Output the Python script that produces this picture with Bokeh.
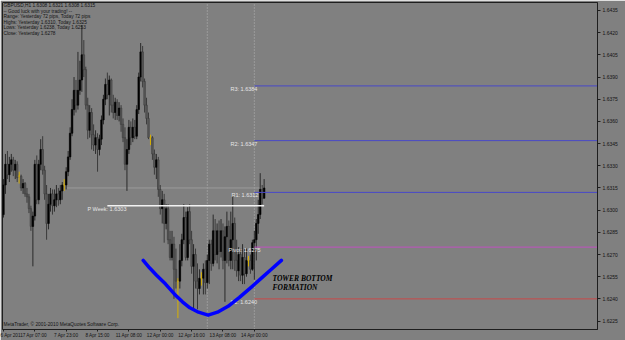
from bokeh.plotting import figure
from bokeh.models import Range1d, FixedTicker, NumeralTickFormatter, ColumnDataSource, Label
from bokeh.embed import file_html
from bokeh.resources import INLINE
from bokeh.core.properties import value

# ---------------- data (GBPUSD H1, bars from 6 Apr 2011 15:00) ----------------
opens = [1.6297, 1.6317, 1.6331, 1.6324, 1.6331, 1.6334, 1.6327, 1.6331, 1.6323, 1.6323,
         1.6315, 1.6318, 1.6311, 1.6309, 1.6301, 1.6289, 1.6296, 1.6331, 1.6307, 1.6331,
         1.6341, 1.6327, 1.6311, 1.6291, 1.6304, 1.6311, 1.6303, 1.6307, 1.6311, 1.6307,
         1.6313, 1.6317, 1.6317, 1.6326, 1.6336, 1.6352, 1.6368, 1.6381, 1.6371, 1.6381,
         1.6388, 1.6405, 1.6395, 1.6371, 1.6354, 1.6366, 1.6351, 1.6344, 1.6349, 1.6341,
         1.6348, 1.6361, 1.6375, 1.6385, 1.6378, 1.6388, 1.6371, 1.6366, 1.6373, 1.6364,
         1.6369, 1.6358, 1.6349, 1.6331, 1.6341, 1.6356, 1.6349, 1.6356, 1.6350, 1.6368,
         1.6390, 1.6407, 1.6387, 1.6371, 1.6362, 1.6349, 1.6349, 1.6338, 1.6329, 1.6334,
         1.6314, 1.6301, 1.6307, 1.6291, 1.6301, 1.6280, 1.6268, 1.6277, 1.6260, 1.6252,
         1.6252, 1.6266, 1.6280, 1.6295, 1.6268, 1.6299, 1.6280, 1.6262, 1.6270, 1.6252,
         1.6247, 1.6254, 1.6254, 1.6260, 1.6251, 1.6266, 1.6277, 1.6264, 1.6286, 1.6270,
         1.6286, 1.6272, 1.6286, 1.6266, 1.6282, 1.6289, 1.6266, 1.6280, 1.6291, 1.6266,
         1.6259, 1.6270, 1.6256, 1.6268, 1.6257, 1.6266, 1.6266, 1.6260, 1.6278, 1.6280,
         1.6291, 1.6297, 1.6314, 1.6308]
highs = [1.6321, 1.6338, 1.6340, 1.6336, 1.6338, 1.6336, 1.6334, 1.6333, 1.6326, 1.6324,
         1.6321, 1.6319, 1.6315, 1.6311, 1.6303, 1.6299, 1.6334, 1.6337, 1.6334, 1.6348,
         1.6350, 1.6330, 1.6317, 1.6311, 1.6315, 1.6314, 1.6314, 1.6317, 1.6315, 1.6317,
         1.6319, 1.6321, 1.6329, 1.6340, 1.6356, 1.6375, 1.6390, 1.6388, 1.6407, 1.6401,
         1.6425, 1.6415, 1.6397, 1.6376, 1.6371, 1.6369, 1.6358, 1.6354, 1.6352, 1.6351,
         1.6364, 1.6378, 1.6389, 1.6393, 1.6391, 1.6389, 1.6378, 1.6376, 1.6375, 1.6373,
         1.6371, 1.6362, 1.6356, 1.6348, 1.6361, 1.6360, 1.6362, 1.6361, 1.6371, 1.6393,
         1.6413, 1.6411, 1.6389, 1.6376, 1.6366, 1.6351, 1.6350, 1.6341, 1.6338, 1.6336,
         1.6317, 1.6313, 1.6311, 1.6304, 1.6304, 1.6286, 1.6286, 1.6282, 1.6274, 1.6254,
         1.6277, 1.6284, 1.6304, 1.6299, 1.6302, 1.6304, 1.6286, 1.6277, 1.6274, 1.6264,
         1.6260, 1.6258, 1.6264, 1.6266, 1.6270, 1.6280, 1.6280, 1.6297, 1.6294, 1.6291,
         1.6293, 1.6294, 1.6291, 1.6289, 1.6299, 1.6293, 1.6299, 1.6310, 1.6295, 1.6280,
         1.6275, 1.6274, 1.6277, 1.6274, 1.6274, 1.6269, 1.6270, 1.6280, 1.6286, 1.6294,
         1.6307, 1.6325, 1.6317, 1.6321]
lows = [1.6295, 1.6311, 1.6321, 1.6319, 1.6326, 1.6323, 1.6321, 1.6319, 1.6318, 1.6313,
        1.6311, 1.6309, 1.6305, 1.6298, 1.6286, 1.6262, 1.6293, 1.6304, 1.6304, 1.6327,
        1.6324, 1.6307, 1.6280, 1.6287, 1.6299, 1.6297, 1.6299, 1.6302, 1.6303, 1.6304,
        1.6307, 1.6313, 1.6314, 1.6323, 1.6334, 1.6350, 1.6364, 1.6366, 1.6368, 1.6378,
        1.6380, 1.6390, 1.6368, 1.6348, 1.6349, 1.6341, 1.6340, 1.6338, 1.6326, 1.6337,
        1.6344, 1.6358, 1.6371, 1.6375, 1.6364, 1.6366, 1.6362, 1.6361, 1.6361, 1.6360,
        1.6353, 1.6346, 1.6327, 1.6313, 1.6338, 1.6344, 1.6346, 1.6348, 1.6348, 1.6365,
        1.6387, 1.6383, 1.6366, 1.6358, 1.6348, 1.6344, 1.6334, 1.6324, 1.6321, 1.6309,
        1.6297, 1.6291, 1.6278, 1.6287, 1.6277, 1.6266, 1.6266, 1.6240, 1.6247, 1.6227,
        1.6247, 1.6262, 1.6277, 1.6266, 1.6266, 1.6277, 1.6257, 1.6233, 1.6247, 1.6233,
        1.6243, 1.6249, 1.6243, 1.6243, 1.6247, 1.6250, 1.6259, 1.6262, 1.6266, 1.6264,
        1.6260, 1.6268, 1.6260, 1.6238, 1.6264, 1.6262, 1.6260, 1.6260, 1.6259, 1.6255,
        1.6252, 1.6252, 1.6250, 1.6250, 1.6255, 1.6262, 1.6257, 1.6259, 1.6253, 1.6266,
        1.6284, 1.6294, 1.6304, 1.6308]
closes = [1.6317, 1.6331, 1.6324, 1.6331, 1.6334, 1.6327, 1.6331, 1.6322, 1.6323, 1.6315,
          1.6318, 1.6311, 1.6309, 1.6301, 1.6289, 1.6296, 1.6331, 1.6307, 1.6331, 1.6341,
          1.6327, 1.6311, 1.6291, 1.6304, 1.6311, 1.6303, 1.6307, 1.6311, 1.6307, 1.6313,
          1.6317, 1.6317, 1.6326, 1.6336, 1.6352, 1.6368, 1.6381, 1.6371, 1.6381, 1.6388,
          1.6405, 1.6395, 1.6371, 1.6354, 1.6366, 1.6351, 1.6344, 1.6349, 1.6341, 1.6348,
          1.6361, 1.6375, 1.6385, 1.6378, 1.6388, 1.6371, 1.6366, 1.6373, 1.6364, 1.6369,
          1.6358, 1.6349, 1.6331, 1.6341, 1.6356, 1.6349, 1.6356, 1.6350, 1.6368, 1.6390,
          1.6407, 1.6387, 1.6371, 1.6362, 1.6349, 1.6349, 1.6338, 1.6329, 1.6334, 1.6314,
          1.6301, 1.6307, 1.6291, 1.6301, 1.6280, 1.6268, 1.6277, 1.6260, 1.6252, 1.6252,
          1.6266, 1.6280, 1.6295, 1.6268, 1.6299, 1.6280, 1.6262, 1.6270, 1.6252, 1.6247,
          1.6254, 1.6254, 1.6260, 1.6251, 1.6266, 1.6277, 1.6264, 1.6286, 1.6270, 1.6286,
          1.6272, 1.6286, 1.6266, 1.6282, 1.6289, 1.6266, 1.6280, 1.6291, 1.6266, 1.6259,
          1.6270, 1.6256, 1.6268, 1.6257, 1.6266, 1.6266, 1.6260, 1.6278, 1.6280, 1.6291,
          1.6297, 1.6314, 1.6308, 1.6315]

x_tick_pos = [0, 16, 32, 48, 64, 80, 96, 112, 128]
x_tick_labels = ["6 Apr 2011", "7 Apr 07:00", "7 Apr 23:00", "8 Apr 15:00", "11 Apr 08:00",
                 "12 Apr 00:00", "12 Apr 16:00", "13 Apr 08:00", "14 Apr 00:00"]
y_ticks = [1.6225, 1.6240, 1.6255, 1.6270, 1.6285, 1.6300, 1.6315, 1.6330, 1.6345,
           1.6360, 1.6375, 1.6390, 1.6405, 1.6420, 1.6435]

pivot_names = ["R3", "R2", "R1", "Pivot", "S1"]
pivot_levels = [1.6384, 1.6347, 1.6312, 1.6275, 1.6240]
pivot_start = 128
week_pivot = 1.6303
week_start, week_end = 53, 133
separators = [104, 128]
bid_price = 1.6315
bid_start, bid_end = 32, 133

curve_x = [71.3, 74.5, 78.1, 82.7, 87.4, 91.3, 95.1, 99.5, 104.4, 109.2, 114.6, 120.4,
           126.5, 131.6, 136.7, 141.8]
curve_y = [1.6266, 1.6261, 1.6256, 1.6250, 1.6243, 1.6238, 1.6234, 1.6231, 1.6229, 1.6231,
           1.6235, 1.6241, 1.6248, 1.6254, 1.6260, 1.6266]

info_lines = ["GBPUSD,H1  1.6308 1.6321 1.6308 1.6315",
              "-- Good luck with your trading! --",
              "Range: Yesterday 72 pips, Today 72 pips",
              "Highs: Yesterday 1.6310, Today 1.6325",
              "Lows: Yesterday 1.6238, Today 1.6253",
              "Close: Yesterday 1.6278"]

# ---------------- layout ----------------
X0, X1 = -0.5, 303.1
Y0, Y1 = 1.62193, 1.64404
FL, FR, FT, FB = 2, 597, 2, 331


def dx(px):
    return X0 + (px - FL) / (FR - FL) * (X1 - X0)


def dy(py):
    return Y1 - (py - FT) / (FB - FT) * (Y1 - Y0)


BG = "#808080"
FONT = value("Liberation Sans")

p = figure(width=625, height=340, output_backend="svg", toolbar_location=None,
           x_range=Range1d(X0, X1), y_range=Range1d(Y0, Y1),
           y_axis_location="right",
           min_border_left=2, min_border_top=2, min_border_right=28, min_border_bottom=9,
           background_fill_color=BG, border_fill_color=BG,
           outline_line_color="#1e1e1e", outline_line_width=1)
p.grid.visible = False

xa = p.xaxis[0]
xa.ticker = FixedTicker(ticks=x_tick_pos)
xa.major_label_overrides = {k: v for k, v in zip(x_tick_pos, x_tick_labels)}
xa.major_label_text_align = "left"
xa.major_label_text_font_size = "4.7px"
xa.major_label_text_font = "Liberation Sans"
xa.major_label_text_color = "#141414"
xa.major_label_standoff = 1
xa.major_tick_out = 2
xa.major_tick_in = 0
xa.minor_tick_out = 0
xa.minor_tick_in = 0
xa.axis_line_color = "#1e1e1e"
xa.major_tick_line_color = "#1e1e1e"

ya = p.yaxis[0]
ya.ticker = FixedTicker(ticks=y_ticks)
ya.formatter = NumeralTickFormatter(format="0.0000")
ya.major_label_text_font_size = "5px"
ya.major_label_text_font = "Liberation Sans"
ya.major_label_text_color = "#141414"
ya.major_label_standoff = 2
ya.major_tick_out = 3
ya.major_tick_in = 0
ya.minor_tick_out = 0
ya.minor_tick_in = 0
ya.axis_line_color = "#1e1e1e"
ya.major_tick_line_color = "#1e1e1e"

# separators and bid line
for sx in separators:
    p.segment(x0=[sx], y0=[Y0], x1=[sx], y1=[Y1], line_color="#b4b4b4",
              line_width=1, line_dash="1 2")
p.segment(x0=[bid_start], y0=[bid_price], x1=[bid_end], y1=[bid_price],
          line_color="#9a9a9a", line_width=1)

# candles
idx = list(range(len(opens)))
tops, bots, fills, lines, wicks = [], [], [], [], []
for o, c in zip(opens, closes):
    tops.append(max(o, c))
    bots.append(min(o, c))
    if round(o, 4) == round(c, 4):
        fills.append("#d8b000"); lines.append("#d8b000"); wicks.append("#d8b000")
    elif c > o:
        fills.append("#000000"); lines.append("#000000"); wicks.append("#2a2a2a")
    else:
        fills.append("#5c5c5c"); lines.append("#3a3a3a"); wicks.append("#3a3a3a")
src = ColumnDataSource(dict(x=idx, h=highs, l=lows, top=tops, bottom=bots,
                            fill=fills, line=lines, wick=wicks))
p.segment(x0="x", y0="l", x1="x", y1="h", line_color="wick", line_width=1, source=src)
p.vbar(x="x", top="top", bottom="bottom", width=0.8, fill_color="fill",
       line_color="line", line_width=0.6, source=src)

# weekly pivot
p.segment(x0=[week_start], y0=[week_pivot], x1=[week_end], y1=[week_pivot],
          line_color="#f2f2f2", line_width=1.6)
p.text(x=[dx(87)], y=[week_pivot], text=[f"P Week: {week_pivot:.4f}"],
       text_baseline="top", text_font_size="5.5px", text_color="#e6e6e6", text_font=FONT)

# daily pivots
pcolors = ["#4848c8", "#4848c8", "#4848c8", "#c050c0", "#c84848"]
ptext_px = [230, 230, 231, 228, 230]
for name, lvl, col, tx in zip(pivot_names, pivot_levels, pcolors, ptext_px):
    p.segment(x0=[pivot_start], y0=[lvl], x1=[X1], y1=[lvl], line_color=col, line_width=1)
    p.text(x=[dx(tx)], y=[lvl], text=[f"{name}: {lvl:.4f}"], text_baseline="top",
           text_font_size="5.5px", text_color="#e6e6e6", text_font=FONT)

# hand-drawn curve
p.line(curve_x, curve_y, line_color="#0000ff", line_width=3.5,
       line_join="round", line_cap="round")

p.text(x=[dx(272), dx(272)], y=[dy(280), dy(288.5)], text=["TOWER BOTTOM", "FORMATION"],
       text_baseline="middle", text_font_size="7.5px", text_font_style="bold italic",
       text_color="#000000", text_font=value("Liberation Serif"))

# info text
info_py = [5, 10.6, 16.2, 21.8, 27.4, 33]
p.text(x=[dx(3)] * len(info_lines), y=[dy(v) for v in info_py], text=info_lines,
       text_baseline="middle", text_font_size="4.8px", text_color="#141414", text_font=FONT)
p.text(x=[dx(3)], y=[dy(326)], text=["MetaTrader, \u00a9 2001-2010 MetaQuotes Software Corp."],
       text_baseline="middle", text_font_size="4.8px", text_color="#141414", text_font=FONT)

# current price marker on axis
p.add_layout(Label(x=X1, y=closes[-1], x_offset=8, text=f"{closes[-1]:.4f}",
                   text_color="#ffffff", background_fill_color="#000000",
                   text_font_size="5px", text_baseline="middle", text_align="left",
                   text_font="Liberation Sans"))

open("out.html", "w").write(file_html(p, INLINE))
